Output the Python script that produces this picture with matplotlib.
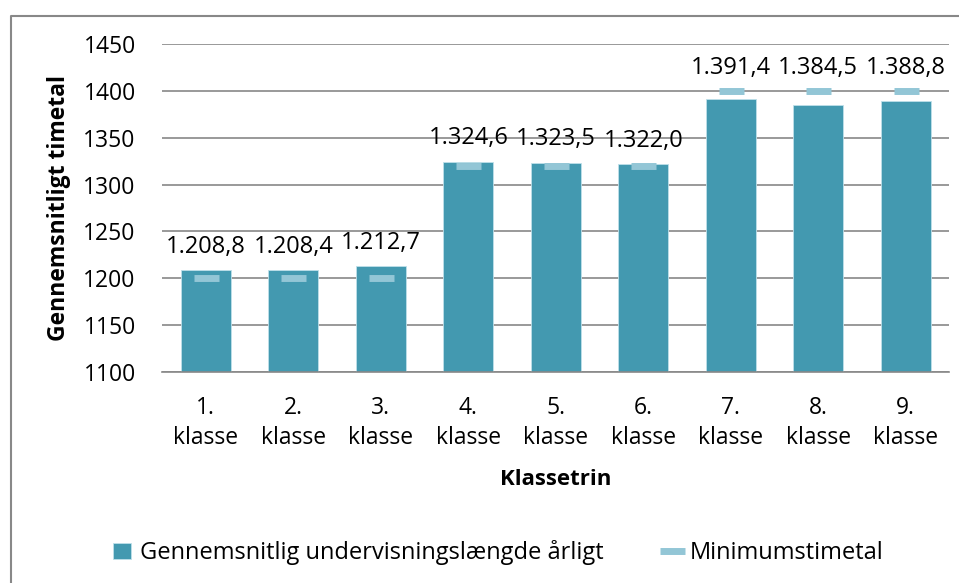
import matplotlib.pyplot as plt
from matplotlib.lines import Line2D
import numpy as np

plt.rcParams['font.family'] = ['Open Sans', 'DejaVu Sans']

klasser = ['1.\nklasse', '2.\nklasse', '3.\nklasse', '4.\nklasse', '5.\nklasse',
           '6.\nklasse', '7.\nklasse', '8.\nklasse', '9.\nklasse']
timetal = [1208.8, 1208.4, 1212.7, 1324.6, 1323.5, 1322.0, 1391.4, 1384.5, 1388.8]
minimum = [1200, 1200, 1200, 1320, 1320, 1320, 1400, 1400, 1400]
labels = ['1.208,8', '1.208,4', '1.212,7', '1.324,6', '1.323,5', '1.322,0',
          '1.391,4', '1.384,5', '1.388,8']

bar_col = '#4399B0'
min_col = '#93C6D6'

fig = plt.figure(figsize=(9.59, 5.83), dpi=100)
ax = fig.add_axes([0.169, 0.362, 0.821, 0.5625])
x = np.arange(len(klasser))

bars = ax.bar(x, timetal, width=0.57, color=bar_col, edgecolor='#bfe0ea', linewidth=0.6,
              zorder=2, label='Gennemsnitlig undervisningslængde årligt')
mins, = ax.plot(x, minimum, ls='none', marker='_', ms=18, mew=5, color=min_col, zorder=3,
                label='Minimumstimetal')

# label sits over whichever is higher: bar or minimum marker
for xi, v, m, lab in zip(x, timetal, minimum, labels):
    ax.annotate(lab, (xi, max(v, m)), xytext=(0, 8), textcoords='offset points',
                ha='center', va='bottom', fontsize=17, zorder=4)

ax.set_xlim(-0.5, len(klasser) - 0.5)
ax.set_ylim(1100, 1450)
ax.set_yticks(np.arange(1100, 1451, 50))
ax.set_xticks(x)
ax.set_xticklabels(klasser, fontsize=16.5, linespacing=1.35)
ax.tick_params(axis='y', labelsize=16.5, length=0, pad=19)
ax.tick_params(axis='x', length=0, pad=17)
ax.grid(axis='y', color='#888888', linewidth=1.2, zorder=0)
for s in ['top', 'right', 'left']:
    ax.spines[s].set_visible(False)
ax.spines['bottom'].set_color('#888888')
ax.spines['bottom'].set_linewidth(1.2)

ax.set_ylabel('Gennemsnitligt timetal', fontsize=16.5, fontweight='bold')
ax.set_xlabel('Klassetrin', fontsize=16, fontweight='bold')
ax.yaxis.set_label_coords(-0.116, 0.5)
ax.xaxis.set_label_coords(0.5, -0.296)

fig.legend([bars, mins], ['Gennemsnitlig undervisningslængde årligt', 'Minimumstimetal'],
           loc='center', bbox_to_anchor=(0.5195, 0.0515), ncol=2, frameon=False,
           fontsize=17, handlelength=0.75, handletextpad=0.4, columnspacing=2.5)

# chart frame: only the left and top edges are inside the picture
fx = 10.5 / 959
fy = 1 - 15.5 / 583
fig.lines.append(Line2D([fx, fx, 1], [0, fy, fy], transform=fig.transFigure,
                        color='#888888', linewidth=1.5))

fig.savefig('out.png', dpi=100)
